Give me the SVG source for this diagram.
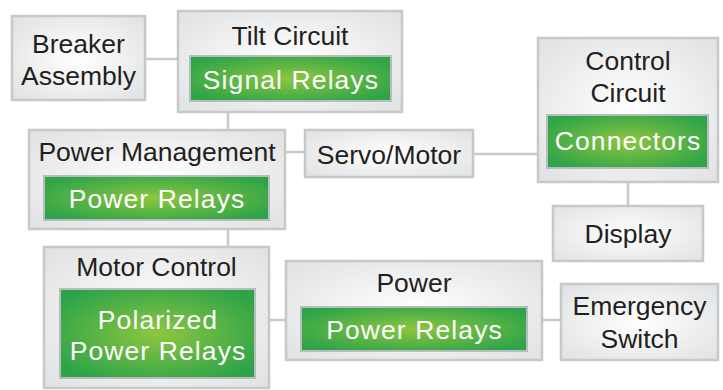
<svg xmlns="http://www.w3.org/2000/svg" width="723" height="390" viewBox="0 0 723 390">
<defs>
<radialGradient id="gbox" cx="50%" cy="50%" r="65%">
<stop offset="0" stop-color="#ffffff"/>
<stop offset="1" stop-color="#e2e3e4"/>
</radialGradient>
<radialGradient id="ggreen" cx="50%" cy="50%" r="60%">
<stop offset="0" stop-color="#8dc63f"/>
<stop offset="1" stop-color="#2ea449"/>
</radialGradient>
<style>
.box{fill:url(#gbox);stroke:#c6c8ca;stroke-width:2.5}
.grn{fill:url(#ggreen);stroke:#b9bcbe;stroke-width:2}
.t{font-family:"Liberation Sans",Arial,sans-serif;font-size:26.5px;fill:#231f20;text-anchor:middle}
.w{font-family:"Liberation Sans",Arial,sans-serif;font-size:26.5px;fill:#ffffff;text-anchor:middle;letter-spacing:1.1px}
.c{stroke:#c6c8ca;stroke-width:2.5;fill:none}
</style>
</defs>
<rect width="723" height="390" fill="#ffffff"/>
<g id="connectors">
<line class="c" x1="145" y1="59" x2="178" y2="59"/>
<line class="c" x1="228" y1="112" x2="228" y2="130"/>
<line class="c" x1="285" y1="152" x2="305" y2="152"/>
<line class="c" x1="473" y1="154" x2="538" y2="154"/>
<line class="c" x1="628" y1="182" x2="628" y2="206"/>
<line class="c" x1="228" y1="229" x2="228" y2="247"/>
<line class="c" x1="269" y1="320" x2="286" y2="320"/>
<line class="c" x1="542" y1="320" x2="561" y2="320"/>
</g>
<g id="breaker">
<rect class="box" x="12" y="16" width="133" height="84"/>
<text class="t" x="78.5" y="53">Breaker</text>
<text class="t" x="78.5" y="85">Assembly</text>
</g>
<g id="tilt">
<rect class="box" x="178" y="11" width="224" height="101"/>
<text class="t" x="290" y="45">Tilt Circuit</text>
<rect class="grn" x="190" y="56" width="201" height="45"/>
<text class="w" x="291" y="89">Signal Relays</text>
</g>
<g id="powermgmt">
<rect class="box" x="29" y="130" width="256" height="99"/>
<text class="t" x="157" y="161">Power Management</text>
<rect class="grn" x="44" y="176" width="225" height="44"/>
<text class="w" x="157" y="208">Power Relays</text>
</g>
<g id="servo">
<rect class="box" x="305" y="130" width="168" height="47"/>
<text class="t" x="389" y="164">Servo/Motor</text>
</g>
<g id="control">
<rect class="box" x="538" y="38" width="180" height="144"/>
<text class="t" x="628" y="70">Control</text>
<text class="t" x="628" y="102">Circuit</text>
<rect class="grn" x="547" y="115" width="161" height="53"/>
<text class="w" x="628" y="150">Connectors</text>
</g>
<g id="display">
<rect class="box" x="553" y="206" width="150" height="55"/>
<text class="t" x="628" y="243">Display</text>
</g>
<g id="motorcontrol">
<rect class="box" x="44" y="247" width="225" height="141"/>
<text class="t" x="156.5" y="276">Motor Control</text>
<rect class="grn" x="60" y="289" width="195" height="89"/>
<text class="w" x="158" y="329">Polarized</text>
<text class="w" x="158" y="360">Power Relays</text>
</g>
<g id="power">
<rect class="box" x="286" y="261" width="256" height="99"/>
<text class="t" x="414" y="292">Power</text>
<rect class="grn" x="301" y="307" width="226" height="44"/>
<text class="w" x="414.5" y="339">Power Relays</text>
</g>
<g id="emergency">
<rect class="box" x="561" y="284" width="157" height="76"/>
<text class="t" x="639.5" y="315">Emergency</text>
<text class="t" x="639.5" y="348">Switch</text>
</g>
</svg>
